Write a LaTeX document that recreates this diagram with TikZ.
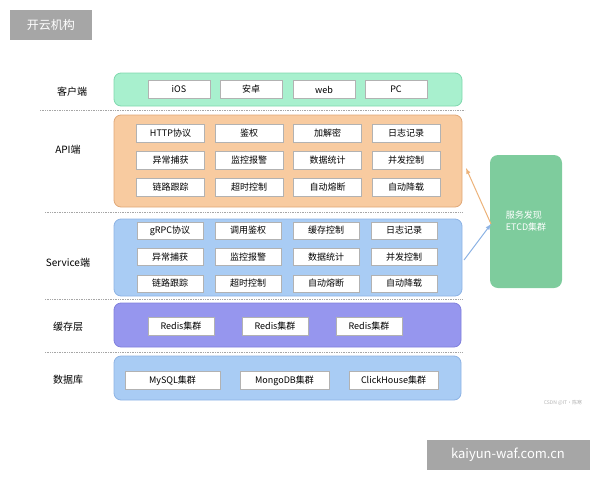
\documentclass[tikz,border=0pt]{standalone}
\usepackage{fontspec}
\setmainfont{Noto Sans CJK SC}
\begin{document}
\begin{tikzpicture}[x=1pt,y=-1pt,
  band/.style={rounded corners=7pt,line width=0.8pt},
  item/.style={draw=gray!60,fill=white,minimum height=18pt,inner sep=0pt,font=\fontsize{9}{10}\selectfont},
  lab/.style={font=\fontsize{10}{12}\selectfont},
  sep/.style={densely dotted,gray!70,line width=0.7pt}]
\useasboundingbox (0,0) rectangle (600,480);
\definecolor{cg}{HTML}{A8F0CE}\definecolor{cgb}{HTML}{80D8AE}
\definecolor{co}{HTML}{F8CBA0}\definecolor{cob}{HTML}{E0A878}
\definecolor{cb}{HTML}{A9CCF4}\definecolor{cbb}{HTML}{8DB3E4}
\definecolor{cp}{HTML}{9696EE}\definecolor{cpb}{HTML}{8080DC}
\definecolor{ce}{HTML}{7ECC9D}
% watermark
\node[fill=gray!70,text=white,minimum width=82pt,minimum height=30pt,font=\fontsize{12}{14}\selectfont] (wm1) at (51,25) {开云机构};
\node[fill=gray!70,text=white,minimum width=163pt,minimum height=30pt,font=\fontsize{13}{15}\selectfont] (wm2) at (508,455) {kaiyun-waf.com.cn};
\node[text=gray!60,font=\fontsize{5}{6}\selectfont] (csdn) at (563,403) {CSDN @IT·陈寒};
% client
\draw[band,fill=cg,draw=cgb] (114,73) rectangle (462,106);
\node[lab] (l1) at (72,92) {客户端};
\foreach \t/\x in {iOS/179,安卓/251,web/324,PC/396}
  \node[item,minimum width=62pt] at (\x,89.5) {\t};
\draw[sep] (40,110) -- (465,110);
% API
\draw[band,fill=co,draw=cob] (114,115) rectangle (462,207);
\node[lab] (l2) at (68,150) {API端};
\foreach \t [count=\i from 0] in {HTTP协议,鉴权,加解密,日志记录,异常捕获,监控报警,数据统计,并发控制,链路跟踪,超时控制,自动熔断,自动降载}{
  \pgfmathtruncatemacro{\c}{mod(\i,4)}\pgfmathtruncatemacro{\r}{int(\i/4)}
  \node[item,minimum width=68pt] at ({170.5+\c*78.5},{133.5+\r*27}) {\t};}
\draw[sep] (45,212) -- (462,212);
% Service
\draw[band,fill=cb,draw=cbb] (114,219) rectangle (462,296);
\node[lab] (l3) at (68,263) {Service端};
\foreach \t [count=\i from 0] in {gRPC协议,调用鉴权,缓存控制,日志记录,异常捕获,监控报警,数据统计,并发控制,链路跟踪,超时控制,自动熔断,自动降载}{
  \pgfmathtruncatemacro{\c}{mod(\i,4)}\pgfmathtruncatemacro{\r}{int(\i/4)}
  \node[item,minimum width=66pt,minimum height=17pt] at ({170+\c*78},{230.5+\r*26.5}) {\t};}
\draw[sep] (45,299) -- (462,299);
% cache
\draw[band,fill=cp,draw=cpb] (114,303) rectangle (461,347);
\node[lab] (l4) at (68,327) {缓存层};
\foreach \x in {181,275,369}
  \node[item,minimum width=66pt] at (\x,326) {Redis集群};
\draw[sep] (45,352) -- (462,352);
% db
\draw[band,fill=cb,draw=cbb] (114,356) rectangle (461,400);
\node[lab] (l5) at (68,380) {数据库};
\node[item,minimum width=95pt] (m1) at (172.5,380.5) {MySQL集群};
\node[item,minimum width=89pt] (m2) at (284.5,380.5) {MongoDB集群};
\node[item,minimum width=89pt] (m3) at (393.5,380.5) {ClickHouse集群};
% etcd
\node[fill=ce,rounded corners=8pt,minimum width=72pt,minimum height=133pt] (etcd) at (526,221.5) {};
\node[text=white,align=left,font=\fontsize{9}{12}\selectfont] (et) at (526,221) {服务发现\\ETCD集群};
\coordinate (a1) at (491,224);
\coordinate (a2) at (466,168);
\coordinate (b1) at (464,260);
\draw[-latex,orange!50!brown!60!white,line width=1pt] (a1) -- (a2);
\draw[-latex,cbb,line width=1pt] (b1) -- (a1);
\end{tikzpicture}
\end{document}
